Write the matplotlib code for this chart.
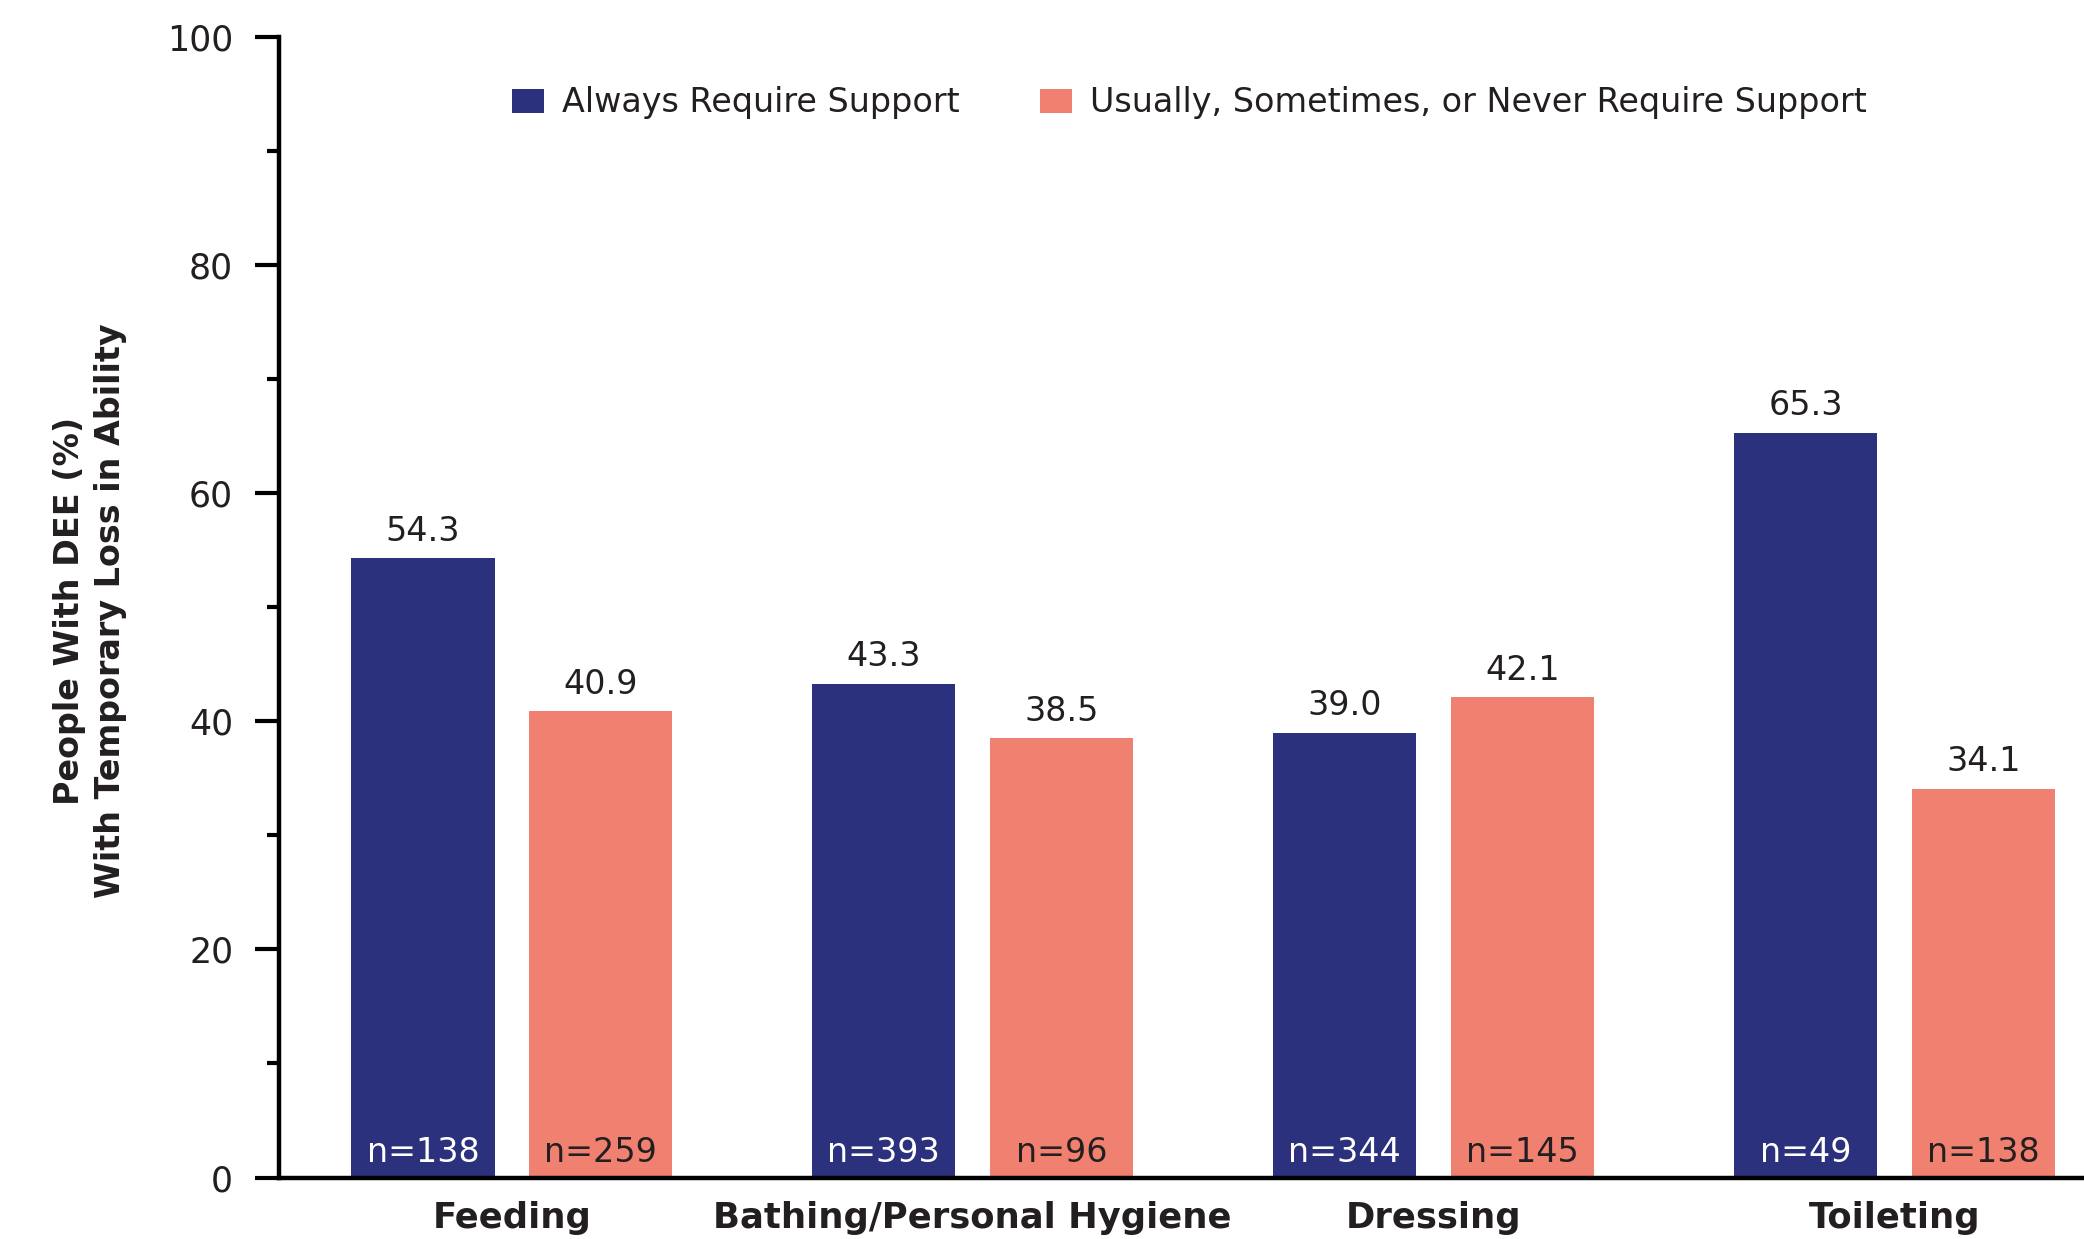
import numpy as np
import matplotlib
matplotlib.use("Agg")
import matplotlib.pyplot as plt

# values
categories = ["Feeding", "Bathing/Personal Hygiene", "Dressing", "Toileting"]
always_pct = [54.3, 43.3, 39.0, 65.3]
other_pct = [40.9, 38.5, 42.1, 34.1]
always_n = [138, 393, 344, 49]
other_n = [259, 96, 145, 138]
series_names = ["Always Require Support", "Usually, Sometimes, or Never Require Support"]

navy = "#2b317c"
salmon = "#f08070"
ink = "#231f20"

plt.rcParams["font.family"] = "DejaVu Sans"
plt.rcParams["text.color"] = ink

fig = plt.figure(figsize=(20.84, 12.39), dpi=100)
ax = fig.add_axes([0.1339, 0.0496, 0.8661, 0.9205])

x = np.arange(len(categories))
w = 0.311
off = 0.193

b1 = ax.bar(x - off, always_pct, w, color=navy, label=series_names[0])
b2 = ax.bar(x + off, other_pct, w, color=salmon, label=series_names[1])

# value labels on top
for bars, vals in ((b1, always_pct), (b2, other_pct)):
    for r, v in zip(bars, vals):
        ax.annotate(f"{v:.1f}", (r.get_x() + r.get_width() / 2, v),
                    xytext=(0, 12.5), textcoords="offset points",
                    ha="center", va="baseline", fontsize=24, color=ink)

# n= labels inside bars
for bars, ns, col in ((b1, always_n, "white"), (b2, other_n, ink)):
    for r, n in zip(bars, ns):
        ax.text(r.get_x() + r.get_width() / 2, 1.35, f"n={n}",
                ha="center", va="baseline", fontsize=24, color=col)

ax.set_xlim(-0.505, 3.411)
ax.set_ylim(0, 100)
ax.set_yticks(np.arange(0, 101, 20))
ax.set_yticks(np.arange(10, 100, 20), minor=True)
ax.tick_params(axis="y", which="major", length=17, width=3, labelsize=25,
               pad=16, colors="black", labelcolor=ink)
ax.tick_params(axis="y", which="minor", length=9, width=3, colors="black")

ax.set_xticks(x)
ax.set_xticklabels(categories, fontsize=25.5, fontweight="bold", color=ink)
ax.tick_params(axis="x", length=0, pad=17)

for s in ("top", "right"):
    ax.spines[s].set_visible(False)
for s in ("left", "bottom"):
    ax.spines[s].set_linewidth(3.2)
    ax.spines[s].set_color("black")
ax.spines["bottom"].set_capstyle("projecting")

fig.text(0.043, 0.507, "People With DEE (%)\nWith Temporary Loss in Ability",
         rotation=90, ha="center", va="center", multialignment="center",
         fontsize=24, fontweight="bold", color=ink, linespacing=1.3)

fig.legend(handles=[b1, b2], loc="center left", bbox_to_anchor=(0.2457, 0.917),
           ncol=2, frameon=False, fontsize=24, borderpad=0, borderaxespad=0,
           handlelength=0.96, handleheight=0.72, handletextpad=0.55,
           columnspacing=2.4)

fig.savefig("out.png", dpi=100)
